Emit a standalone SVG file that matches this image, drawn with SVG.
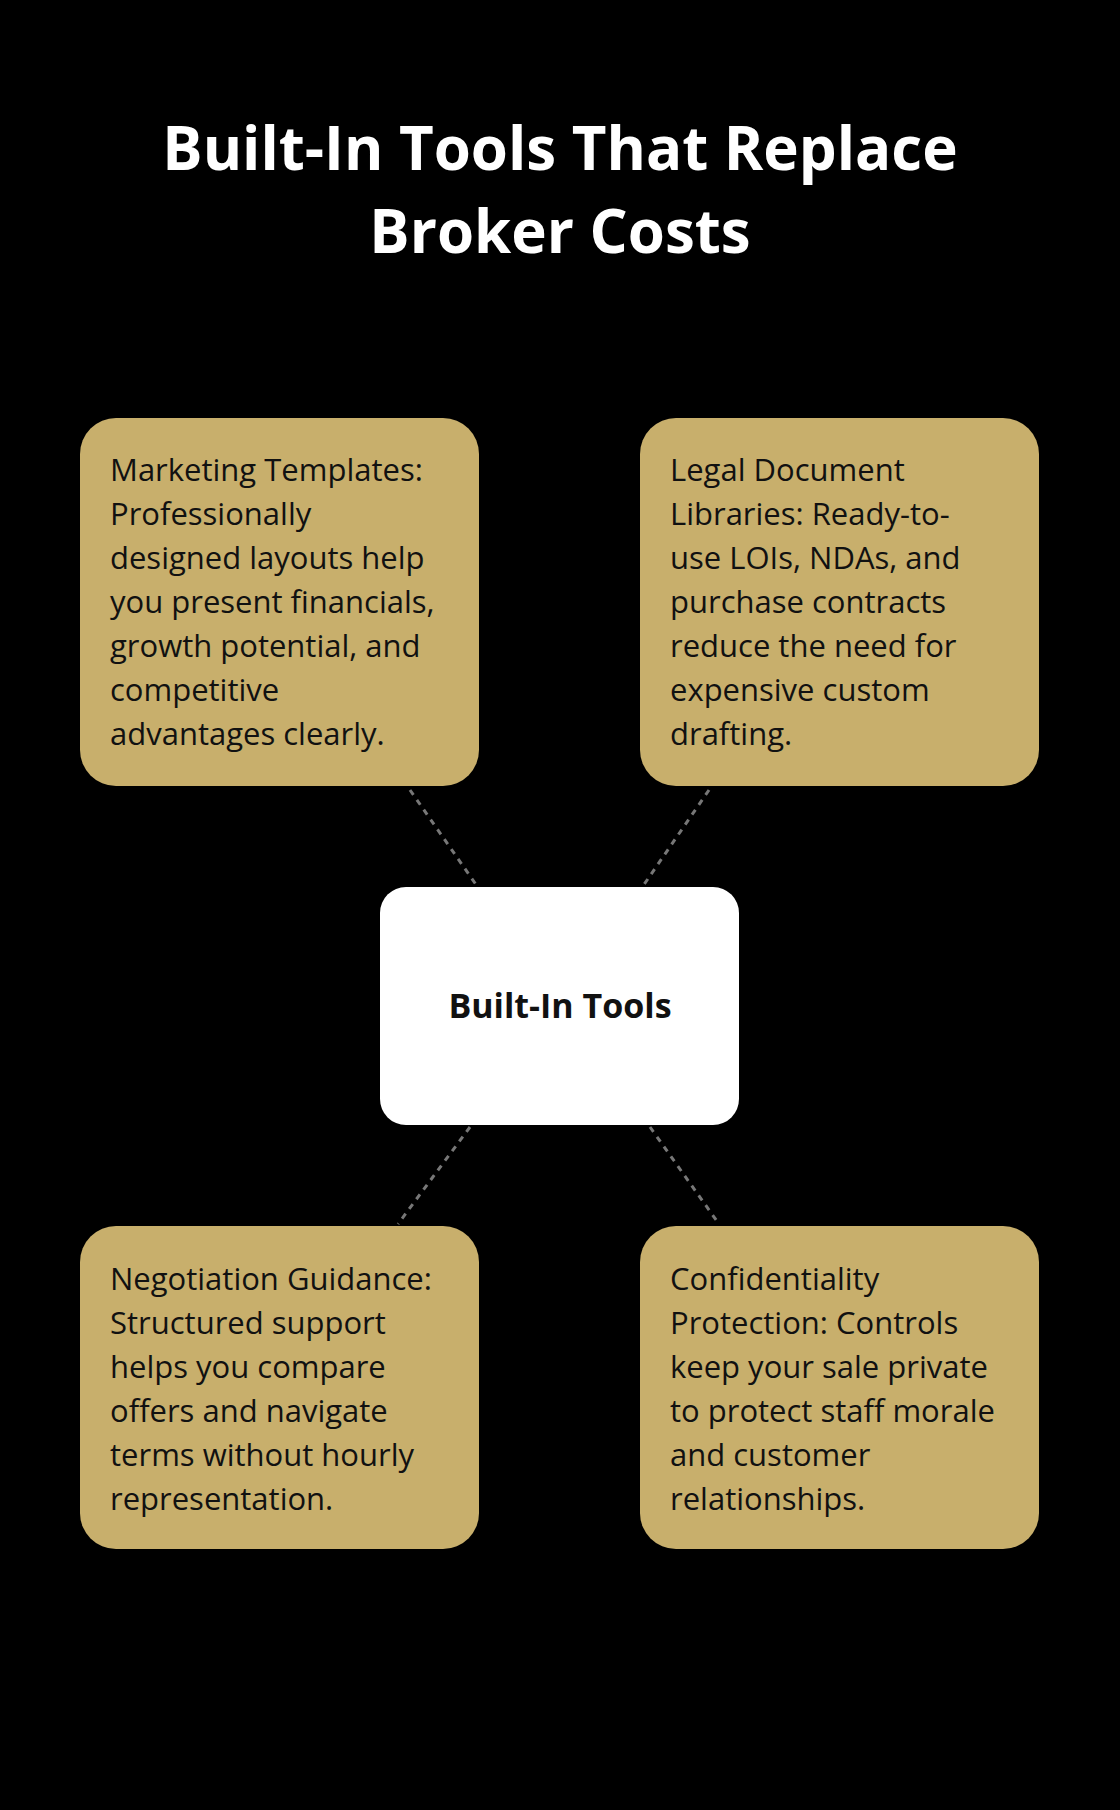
<svg xmlns="http://www.w3.org/2000/svg" width="1120" height="1810" viewBox="0 0 1120 1810">
<style>
.box{fill:#C8AF6C}
.t{font-family:"Open Sans","Noto Sans",sans-serif;font-size:31px;fill:#111}
.title{font-family:"Open Sans","Noto Sans",sans-serif;font-size:60px;font-weight:bold;fill:#fff;text-anchor:middle}
.c{stroke:#777;stroke-width:3;stroke-dasharray:6 6;fill:none}
</style>
<rect width="1120" height="1810" fill="#000"/>
<text class="title" x="560" y="170">Built-In Tools That Replace</text>
<text class="title" x="560" y="253">Broker Costs</text>
<g id="connectors">
<line class="c" x1="410" y1="790" x2="477" y2="886"/>
<line class="c" x1="709" y1="790" x2="643" y2="886"/>
<line class="c" x1="470" y1="1127" x2="398" y2="1224"/>
<line class="c" x1="650" y1="1127" x2="719" y2="1224"/>
</g>
<g id="center">
<rect x="380" y="887" width="359" height="238" rx="26" fill="#fff"/>
<text x="560" y="1018" text-anchor="middle" font-family="Open Sans, sans-serif" font-size="34" font-weight="bold" fill="#111">Built-In Tools</text>
</g>
<g id="marketing">
<rect class="box" x="80" y="418" width="399" height="368" rx="36"/>
<text class="t" x="110" y="481"><tspan x="110">Marketing Templates:</tspan><tspan x="110" dy="44">Professionally</tspan><tspan x="110" dy="44">designed layouts help</tspan><tspan x="110" dy="44">you present financials,</tspan><tspan x="110" dy="44">growth potential, and</tspan><tspan x="110" dy="44">competitive</tspan><tspan x="110" dy="44">advantages clearly.</tspan></text>
</g>
<g id="legal">
<rect class="box" x="640" y="418" width="399" height="368" rx="36"/>
<text class="t" x="670" y="481"><tspan x="670">Legal Document</tspan><tspan x="670" dy="44">Libraries: Ready-to-</tspan><tspan x="670" dy="44">use LOIs, NDAs, and</tspan><tspan x="670" dy="44">purchase contracts</tspan><tspan x="670" dy="44">reduce the need for</tspan><tspan x="670" dy="44">expensive custom</tspan><tspan x="670" dy="44">drafting.</tspan></text>
</g>
<g id="negotiation">
<rect class="box" x="80" y="1226" width="399" height="323" rx="36"/>
<text class="t" x="110" y="1290"><tspan x="110">Negotiation Guidance:</tspan><tspan x="110" dy="44">Structured support</tspan><tspan x="110" dy="44">helps you compare</tspan><tspan x="110" dy="44">offers and navigate</tspan><tspan x="110" dy="44">terms without hourly</tspan><tspan x="110" dy="44">representation.</tspan></text>
</g>
<g id="confidentiality">
<rect class="box" x="640" y="1226" width="399" height="323" rx="36"/>
<text class="t" x="670" y="1290"><tspan x="670">Confidentiality</tspan><tspan x="670" dy="44">Protection: Controls</tspan><tspan x="670" dy="44">keep your sale private</tspan><tspan x="670" dy="44">to protect staff morale</tspan><tspan x="670" dy="44">and customer</tspan><tspan x="670" dy="44">relationships.</tspan></text>
</g>
</svg>
